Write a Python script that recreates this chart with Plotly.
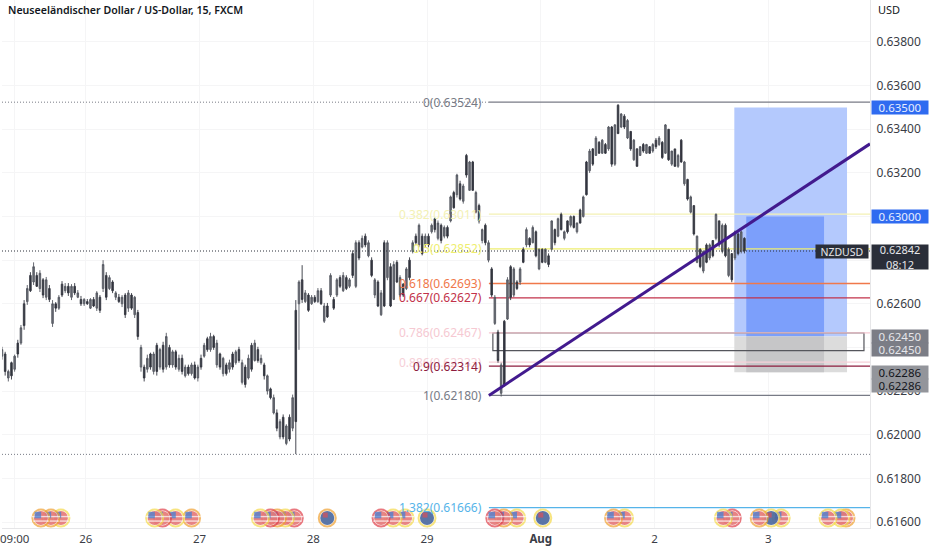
import plotly.graph_objects as go
import numpy as np

title = "Neuseeländischer Dollar / US-Dollar, 15, FXCM"

# x axis is in trading days counted from the "26" tick, weekend left out
day_ticks = [-0.625, 0, 1, 2, 3, 4, 5, 6]
day_labels = ["09:00", "26", "27", "28", "29", "<b>Aug</b>", "2", "3"]
price_ticks = [0.616, 0.618, 0.620, 0.622, 0.624, 0.626, 0.628, 0.630, 0.632, 0.634, 0.636, 0.638]
# labels of 0.624, 0.628 and 0.630 sit under the badges in the reference
price_labels = ["0.61600", "0.61800", "0.62000", "0.62200", "", "0.62600", "", "", "0.63200", "0.63400", "0.63600", "0.63800"]
x_range = [-0.737, 6.895]
y_range = [0.615725, 0.639923]

bars_per_day = 36
first_bar = -0.737

high = [
    .62403, .62380, .62298, .62335, .62367, .62435, .62503, .62617, .62686, .62745, .62790, .62745,
    .62754, .62718, .62723, .62686, .62617, .62608, .62640, .62704, .62695, .62695, .62690, .62695,
    .62663, .62636, .62626, .62622, .62626, .62631, .62658, .62640, .62800, .62745, .62731, .62708,
    .62658, .62645, .62640, .62649, .62663, .62649, .62636, .62572, .62412, .62321, .62367, .62376,
    .62380, .62421, .62398, .62426, .62467, .62412, .62389, .62389, .62367, .62367, .62321, .62321,
    .62330, .62335, .62321, .62367, .62421, .62449, .62467, .62458, .62435, .62376, .62357, .62330,
    .62344, .62380, .62389, .62403, .62344, .62321, .62367, .62421, .62435, .62403, .62367, .62330,
    .62276, .62216, .62184, .62116, .62071, .62093, .62048, .62093, .62184, .62617, .62708, .62777,
    .62663, .62649, .62640, .62640, .62672, .62672, .62604, .62604, .62740, .62631, .62718, .62731,
    .62745, .62731, .62718, .62845, .62891, .62891, .62913, .62922, .62891, .62813, .62718, .62708,
    .62663, .62891, .62891, .62786, .62795, .62800, .62731, .62695, .62768, .62813, .62891, .62922,
    .62968, .62922, .62922, .62922, .62968, .62995, .62982, .62968, .62959, .62959, .63096, .63118,
    .63196, .63164, .63150, .63287, .63255, .63255, .63118, .63059, .62945, .62968, .62891, .62768,
    .62640, .62481, .62330, .62526, .62722, .62777, .62768, .62708, .62768, .62859, .62950, .62905,
    .62959, .62936, .62854, .62854, .62854, .62831, .62982, .62945, .62995, .63018, .62936, .62982,
    .63005, .63005, .62973, .63036, .63096, .63255, .63310, .63314, .63369, .63346, .63355, .63337,
    .63415, .63415, .63424, .63515, .63474, .63469, .63447, .63392, .63355, .63314, .63323, .63337,
    .63333, .63323, .63337, .63360, .63369, .63346, .63424, .63401, .63301, .63310, .63287, .63355,
    .63255, .63173, .63096, .63050, .62913, .62854, .62845, .62877, .62877, .62891, .63014, .62982,
    .62968, .62968, .62859, .62831, .62936, .62927, .62936, .62905,
]
low = [
    .62344, .62271, .62244, .62253, .62289, .62353, .62412, .62481, .62595, .62654, .62686, .62677,
    .62654, .62626, .62617, .62608, .62494, .62563, .62572, .62631, .62649, .62636, .62617, .62640,
    .62626, .62590, .62590, .62595, .62576, .62585, .62567, .62558, .62654, .62617, .62663, .62649,
    .62617, .62604, .62585, .62535, .62563, .62572, .62535, .62435, .62289, .62244, .62285, .62298,
    .62276, .62271, .62298, .62285, .62298, .62307, .62307, .62298, .62289, .62276, .62262, .62271,
    .62271, .62253, .62244, .62298, .62353, .62380, .62380, .62389, .62307, .62298, .62267, .62271,
    .62285, .62298, .62321, .62330, .62230, .62216, .62253, .62289, .62335, .62330, .62321, .62253,
    .62184, .62162, .62093, .62016, .61979, .61979, .61952, .61970, .62016, .61911, .62389, .62604,
    .62604, .62563, .62595, .62604, .62604, .62595, .62512, .62535, .62631, .62572, .62631, .62672,
    .62654, .62663, .62672, .62718, .62672, .62800, .62854, .62859, .62813, .62722, .62626, .62585,
    .62544, .62585, .62708, .62585, .62617, .62695, .62631, .62631, .62663, .62708, .62831, .62868,
    .62859, .62822, .62859, .62859, .62922, .62927, .62891, .62877, .62900, .62900, .62973, .63036,
    .63087, .63073, .63059, .63178, .63118, .63118, .63014, .62968, .62877, .62868, .62790, .62631,
    .62503, .62330, .62175, .62221, .62526, .62617, .62631, .62663, .62686, .62786, .62859, .62859,
    .62877, .62813, .62754, .62786, .62786, .62768, .62845, .62868, .62905, .62936, .62891, .62922,
    .62950, .62945, .62922, .62968, .62995, .63096, .63200, .63232, .63278, .63287, .63287, .63287,
    .63301, .63228, .63232, .63378, .63405, .63401, .63355, .63301, .63255, .63228, .63278, .63292,
    .63287, .63287, .63292, .63310, .63323, .63264, .63287, .63255, .63232, .63228, .63223, .63246,
    .63141, .63073, .63014, .62913, .62786, .62763, .62740, .62786, .62800, .62813, .62891, .62859,
    .62831, .62813, .62722, .62699, .62800, .62822, .62831, .62831,
]
body_top = [
    .6239, .6237, .6229, .6233, .6236, .6242, .6249, .6260, .6267, .6273, .6277, .6273,
    .6274, .6271, .6271, .6267, .6260, .6260, .6263, .6269, .6268, .6268, .6268, .6268,
    .6265, .6262, .6262, .6261, .6262, .6262, .6265, .6263, .6278, .6273, .6272, .6270,
    .6265, .6263, .6263, .6264, .6265, .6264, .6263, .6256, .6240, .6231, .6235, .6237,
    .6237, .6241, .6239, .6241, .6245, .6240, .6238, .6238, .6235, .6235, .6231, .6231,
    .6232, .6232, .6231, .6235, .6241, .6244, .6245, .6245, .6242, .6237, .6235, .6232,
    .6233, .6237, .6238, .6239, .6233, .6231, .6235, .6241, .6242, .6239, .6235, .6232,
    .6227, .6221, .6217, .6210, .6206, .6208, .6204, .6208, .6217, .6257, .6270, .6271,
    .6265, .6264, .6263, .6263, .6266, .6266, .6259, .6259, .6273, .6262, .6271, .6272,
    .6273, .6272, .6271, .6283, .6288, .6288, .6290, .6291, .6288, .6280, .6271, .6270,
    .6265, .6288, .6288, .6277, .6278, .6279, .6272, .6269, .6276, .6280, .6288, .6291,
    .6296, .6291, .6291, .6291, .6296, .6299, .6297, .6296, .6295, .6295, .6309, .6311,
    .6319, .6315, .6314, .6328, .6325, .6325, .6311, .6305, .6294, .6296, .6288, .6276,
    .6263, .6247, .6232, .6252, .6271, .6277, .6276, .6270, .6276, .6285, .6294, .6290,
    .6295, .6293, .6285, .6285, .6285, .6282, .6298, .6294, .6299, .6301, .6293, .6298,
    .6300, .6300, .6297, .6303, .6309, .6325, .6330, .6331, .6336, .6334, .6335, .6333,
    .6341, .6341, .6342, .6351, .6347, .6346, .6344, .6339, .6335, .6331, .6332, .6333,
    .6333, .6332, .6333, .6335, .6336, .6334, .6342, .6340, .6330, .6331, .6328, .6335,
    .6325, .6317, .6309, .6305, .6291, .6285, .6284, .6287, .6287, .6289, .6301, .6298,
    .6296, .6296, .6285, .6283, .6293, .6292, .6293, .6290,
]
body_bottom = [
    .6236, .6229, .6226, .6227, .6230, .6237, .6242, .6250, .6261, .6266, .6270, .6268,
    .6267, .6264, .6263, .6262, .6251, .6258, .6258, .6264, .6266, .6265, .6263, .6265,
    .6263, .6260, .6260, .6260, .6258, .6259, .6258, .6257, .6267, .6263, .6267, .6266,
    .6263, .6261, .6260, .6255, .6258, .6258, .6255, .6245, .6231, .6226, .6230, .6231,
    .6229, .6229, .6231, .6230, .6231, .6232, .6232, .6231, .6230, .6229, .6227, .6228,
    .6228, .6226, .6226, .6231, .6236, .6239, .6239, .6240, .6232, .6231, .6228, .6228,
    .6230, .6231, .6233, .6234, .6224, .6223, .6226, .6230, .6234, .6234, .6233, .6227,
    .6220, .6217, .6210, .6203, .6199, .6199, .6196, .6198, .6203, .6206, .6260, .6262,
    .6261, .6257, .6260, .6261, .6261, .6260, .6252, .6254, .6264, .6258, .6264, .6268,
    .6266, .6267, .6268, .6273, .6268, .6281, .6286, .6287, .6282, .6273, .6264, .6259,
    .6255, .6259, .6272, .6259, .6262, .6270, .6264, .6264, .6267, .6272, .6284, .6288,
    .6287, .6283, .6287, .6287, .6293, .6294, .6290, .6289, .6291, .6291, .6298, .6304,
    .6310, .6308, .6307, .6319, .6312, .6312, .6302, .6298, .6289, .6288, .6280, .6264,
    .6251, .6234, .6219, .6223, .6253, .6263, .6264, .6267, .6270, .6279, .6287, .6287,
    .6288, .6282, .6276, .6279, .6279, .6278, .6285, .6288, .6291, .6294, .6290, .6293,
    .6296, .6295, .6293, .6297, .6300, .6310, .6321, .6324, .6328, .6329, .6329, .6329,
    .6331, .6324, .6324, .6338, .6341, .6341, .6336, .6331, .6326, .6323, .6328, .6330,
    .6329, .6329, .6330, .6332, .6333, .6327, .6329, .6326, .6324, .6323, .6323, .6325,
    .6315, .6308, .6302, .6292, .6279, .6277, .6275, .6279, .6281, .6282, .6290, .6287,
    .6284, .6282, .6273, .6271, .6281, .6283, .6284, .62842,
]

fib_levels = ["0", "0.382", "0.5", "0.618", "0.667", "0.786", "0.886", "0.9", "1", "1.382"]
fib_prices = [0.63524, 0.63011, 0.62852, 0.62693, 0.62627, 0.62467, 0.62333, 0.62314, 0.62180, 0.61666]
fib_colors = ["#787b86", "#f3f1b4", "#eeee70", "#f0784a", "#c2324a", "#f6c9d2", "#f6d0d8", "#8e1c3e", "#787b86", "#56b4e9"]
fib_start = 3.544
fib_label_x = 3.50

trend_x = [3.544, 6.895]
trend_y = [0.62180, 0.63333]

last_price = 0.62842
low_dotted = 0.6191
box_x = [3.579, 6.842]
box_y = [0.62385, 0.62467]
target_outer = [5.702, 6.693]
target_inner = [5.807, 6.491]
entry_price = 0.62450
stop_price = 0.62286
target_price = 0.63500
mid_target = 0.63000

event_days = [-0.395, -0.307, -0.219, 0.605, 0.675, 0.789, 0.93, 1.535, 1.623, 1.684, 1.754, 1.833,
              2.123, 2.596, 2.702, 2.807, 3.0, 3.596, 3.675, 3.789, 4.018, 4.64, 4.737, 5.605,
              5.684, 5.921, 6.026, 6.114, 6.526, 6.64, 6.684]
event_country = ["US", "US", "US", "US", "US", "US", "US", "US", "US", "US", "US", "US",
                 "NZ", "US", "US", "US", "NZ", "US", "US", "US", "NZ", "US", "US", "US",
                 "US", "US", "NZ", "US", "US", "US", "US"]
event_ring = ["#f0a030", "#f0a030", "#f5d94a", "#f5d94a", "#e0404a", "#f5d94a", "#f0a030", "#f5d94a",
              "#e0404a", "#f0a030", "#f5d94a", "#e0404a", "#f0a030", "#e0404a", "#f5d94a", "#f5d94a",
              "#f5d94a", "#e0404a", "#f0a030", "#f5d94a", "#f5d94a", "#f0a030", "#f5d94a", "#f5d94a",
              "#e0404a", "#f0a030", "#f5d94a", "#f5d94a", "#f5d94a", "#f5d94a", "#f0a030"]
event_price = 0.61618

# side badges on the price scale: text, price, background, font colour
badge_text = ["0.63500", "0.63000", "0.62450", "0.62450", "0.62286", "0.62286"]
badge_price = [0.63500, 0.63000, 0.62450, 0.62390, 0.62285, 0.62226]
badge_bg = ["#2f6bf0", "#2f6bf0", "#7b7d86", "#7b7d86", "#93959b", "#93959b"]
badge_fg = ["#e8eeff", "#e8eeff", "#e6e6ea", "#e6e6ea", "#14161c", "#14161c"]

PX_X = 1 / 114
PX_Y = 0.002 / 43.64
FONT = "Noto Sans"
DOTS = "1px,2px"

times = first_bar + np.arange(len(high)) / bars_per_day
opens = [b if i % 2 == 0 else t for i, (t, b) in enumerate(zip(body_top, body_bottom))]
closes = [t if i % 2 == 0 else b for i, (t, b) in enumerate(zip(body_top, body_bottom))]

fig = go.Figure()

# position tool, above the grid and under the candles
shapes = [
    dict(type="rect", x0=target_outer[0], x1=target_outer[1], y0=entry_price, y1=target_price,
         fillcolor="#b4c9fd", line_width=0, layer="between"),
    dict(type="rect", x0=target_inner[0], x1=target_inner[1], y0=entry_price, y1=mid_target,
         fillcolor="#7c9ffb", line_width=0, layer="between"),
    dict(type="rect", x0=target_outer[0], x1=target_outer[1], y0=stop_price, y1=entry_price,
         fillcolor="#dcdcdc", line_width=0, layer="between"),
    dict(type="rect", x0=target_inner[0], x1=target_inner[1], y0=stop_price, y1=entry_price,
         fillcolor="#c6c6c8", line_width=0, layer="between"),
    dict(type="rect", x0=box_x[0], x1=box_x[1], y0=box_y[0], y1=box_y[1],
         line=dict(color="#55565c", width=1.2), layer="between"),
    dict(type="line", x0=x_range[0], x1=fib_start, y0=fib_prices[0], y1=fib_prices[0],
         line=dict(color="#787b86", width=1, dash=DOTS), layer="between"),
    dict(type="line", x0=x_range[0], x1=x_range[1], y0=low_dotted, y1=low_dotted,
         line=dict(color="#787b86", width=1, dash=DOTS), layer="between"),
]
for p, c in zip(fib_prices, fib_colors):
    shapes.append(dict(type="line", x0=fib_start, x1=x_range[1], y0=p, y1=p,
                       line=dict(color=c, width=1.3), layer="between"))

fig.add_trace(go.Candlestick(
    x=times, open=opens, high=high, low=low, close=closes,
    increasing=dict(line=dict(color="#555861", width=0.9), fillcolor="#6a6d75"),
    decreasing=dict(line=dict(color="#33363f", width=0.9), fillcolor="#33363f"),
    whiskerwidth=0, hoverinfo="skip", showlegend=False,
))

shapes.append(dict(type="line", x0=x_range[0], x1=x_range[1], y0=last_price, y1=last_price,
                   line=dict(color="#2a2e39", width=1, dash=DOTS)))
shapes.append(dict(type="line", x0=trend_x[0], x1=trend_x[1], y0=trend_y[0], y1=trend_y[1],
                   line=dict(color="#421a8e", width=3)))


def icon_trace(day, country, ring):
    # one icon = ring, then the flag drawn on top, all points of one trace
    xs, ys, sizes, colors, symbols, edges, widths = [day], [event_price], [17], ["#ffffff"], ["circle"], [ring], [2]
    if country == "US":
        xs += [day, day, day, day - 3 * PX_X]
        ys += [event_price, event_price + 1.5 * PX_Y, event_price - 3 * PX_Y, event_price + 3 * PX_Y]
        sizes += [14, 13, 11, 6.5]
        colors += ["#dd5050", "#ffffff", "#ffffff", "#3d80d8"]
        symbols += ["circle", "line-ew", "line-ew", "square"]
        edges += ["#dd5050", "#ffffff", "#ffffff", "#3d80d8"]
        widths += [0, 1.4, 1.4, 0]
    else:
        xs += [day, day - 2 * PX_X]
        ys += [event_price, event_price + 3 * PX_Y]
        sizes += [14, 5]
        colors += ["#143a82", "#d9505a"]
        symbols += ["circle", "square"]
        edges += ["#143a82", "#d9505a"]
        widths += [0, 0]
    return go.Scatter(x=xs, y=ys, mode="markers", hoverinfo="skip", showlegend=False,
                      marker=dict(size=sizes, color=colors, symbol=symbols,
                                  line=dict(color=edges, width=widths)))


# left icon sits on top inside a cluster
for i in range(len(event_days) - 1, -1, -1):
    fig.add_trace(icon_trace(event_days[i], event_country[i], event_ring[i]))

annotations = []
for lev, p, c in zip(fib_levels, fib_prices, fib_colors):
    annotations.append(dict(x=fib_label_x, y=p, xref="x", yref="y", text=f"{lev}({p:.5f})",
                            showarrow=False, xanchor="right", yanchor="middle",
                            font=dict(family=FONT, size=12, color=c)))

for t, p, bg, fg in zip(badge_text, badge_price, badge_bg, badge_fg):
    annotations.append(dict(x=871 / 870, y=p, xref="paper", yref="y", text=t, showarrow=False,
                            xanchor="left", yanchor="middle", width=56, height=13, align="center",
                            bgcolor=bg, borderpad=0, font=dict(family=FONT, size=11.5, color=fg)))

annotations.append(dict(x=871 / 870, y=last_price, xref="paper", yref="y", yshift=-6,
                        text="0.62842<br>08:12", showarrow=False, xanchor="left", yanchor="middle",
                        width=56, height=24, align="center", bgcolor="#2a2e39", borderpad=0,
                        font=dict(family=FONT, size=11, color="#e6e6ea")))
annotations.append(dict(x=869 / 870, y=last_price, xref="paper", yref="y", text="NZDUSD",
                        showarrow=False, xanchor="right", yanchor="middle", width=52, height=13,
                        bgcolor="#2a2e39", borderpad=0, font=dict(family=FONT, size=10.5, color="#e6e6ea")))
annotations.append(dict(x=4 / 870, y=1 - 10 / 528, xref="paper", yref="paper", text=title,
                        showarrow=False, xanchor="left", yanchor="middle",
                        font=dict(family=FONT, size=10.6, color="#131722", weight=600)))
annotations.append(dict(x=876 / 870, y=1 - 10 / 528, xref="paper", yref="paper", text="USD",
                        showarrow=False, xanchor="left", yanchor="middle",
                        font=dict(family=FONT, size=11, color="#131722")))

fig.update_layout(
    width=932, height=550,
    margin=dict(l=0, r=62, t=0, b=22),
    plot_bgcolor="#ffffff", paper_bgcolor="#ffffff",
    shapes=shapes, annotations=annotations, showlegend=False, boxgap=0.3,
    xaxis=dict(range=x_range, tickvals=day_ticks, ticktext=day_labels, rangeslider=dict(visible=False),
               showgrid=True, gridcolor="#f5f5f6", zeroline=False, showline=True, linecolor="#e6e6e8",
               ticks="", ticklabeloverflow="allow", tickfont=dict(family=FONT, size=11.5, color="#3a3d46")),
    yaxis=dict(range=y_range, side="right", tickvals=price_ticks, ticktext=price_labels,
               ticklabelstandoff=3, showgrid=True, gridcolor="#f5f5f6", zeroline=False,
               showline=True, linecolor="#e6e6e8", ticks="",
               tickfont=dict(family=FONT, size=12, color="#3a3d46")),
)

fig.write_html("out.html", config=dict(displayModeBar=False),
               post_script="document.body.style.margin = '0';")
